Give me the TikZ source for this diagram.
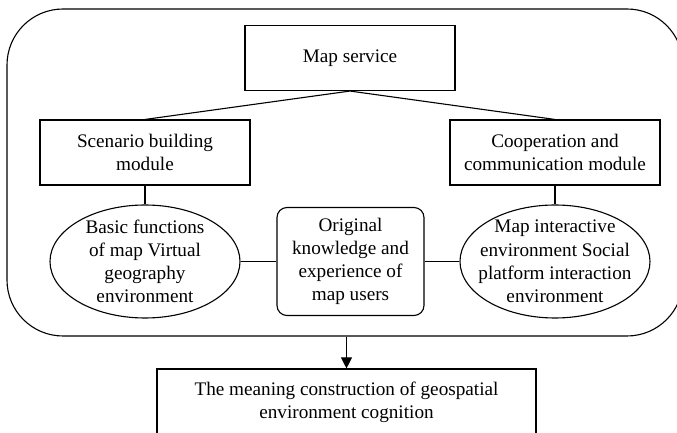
\documentclass[tikz,border=0pt]{standalone}
\usepackage{fontspec}
\setmainfont{Liberation Serif}
\usepackage{tikz}
\usetikzlibrary{shapes.geometric}
\usetikzlibrary{arrows.meta}

\begin{document}
\begin{tikzpicture}[
		x=1pt,y=1pt,
		line width=0.55pt,
		every node/.style={font=\fontsize{9.6}{11.6}\selectfont,align=center,inner sep=0pt},
		box/.style={draw,rectangle,minimum width=105pt,minimum height=32.5pt},
		oval/.style={draw,ellipse,minimum width=95pt,minimum height=56.5pt},
		ovaltext/.style={draw=none,align=center},
		userbox/.style={draw,rectangle,rounded corners=5pt,minimum width=73.5pt,minimum height=54pt},
		frame/.style={draw,rectangle,rounded corners=28pt,minimum width=338pt,minimum height=163.5pt},
		level 1/.style={level distance=47.25pt,sibling distance=205pt},
		level 2/.style={level distance=54.5pt},
		edge from parent path={(\tikzparentnode.south) -- (\tikzchildnode.north)}
		]
		\useasboundingbox (0,0) rectangle (338.5,-216.5);
		\node[frame] (frame) at (172.5,-86.25) {};
		\node[box] (service) at (175,-29) {Map service}
			child {
				node[box] (scenario) {Scenario building\\module}
				child { node[oval,label={[ovaltext]center:{Basic functions\\of map Virtual\\geography\\environment}}] (basic) {} }
			}
			child {
				node[box] (coop) {Cooperation and\\communication module}
				child { node[oval,label={[ovaltext]center:{Map interactive\\environment Social\\platform interaction\\environment}}] (interact) {} }
			};
		\node[userbox] (users) at (175.25,-130.75) {Original\\knowledge and\\experience of\\map users};
		\draw (basic) -- (users);
		\draw (users) -- (interact);
		\node[box,minimum width=189.5pt,minimum height=33pt] (result) at (173.25,-201) {The meaning construction of geospatial\\environment cognition};
		\draw[-{Triangle[length=5.5pt,width=5.5pt]}] (frame.south -| result.north) -- (result.north);
	\end{tikzpicture}
\end{document}
